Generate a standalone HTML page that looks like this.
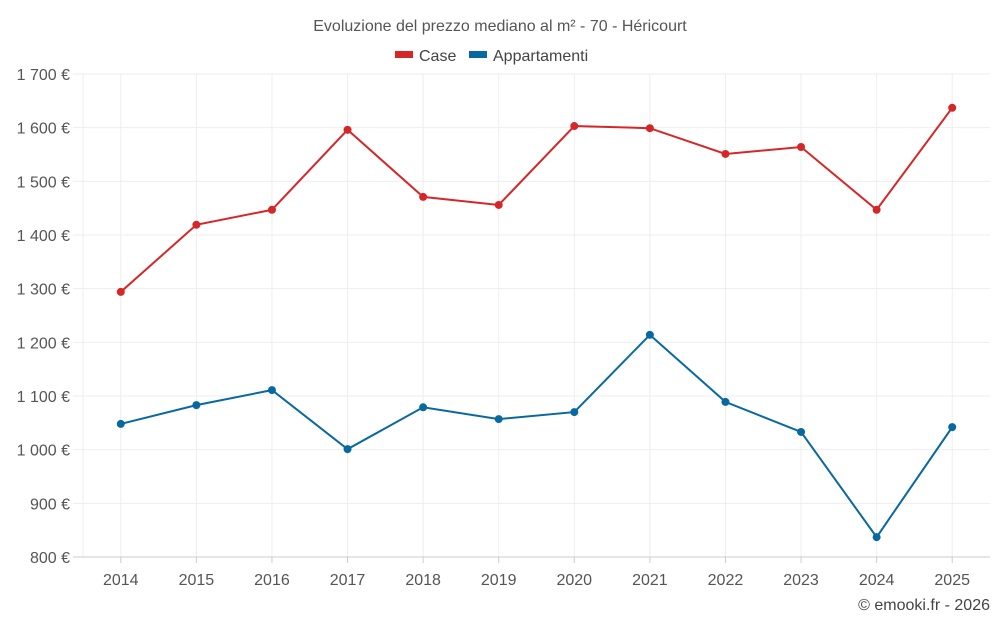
<!DOCTYPE html>
<html><head><meta charset="utf-8"><style>
body{margin:0;background:#fff;font-family:"Liberation Sans",sans-serif;}
svg text{font-family:"Liberation Sans",sans-serif;}
</style></head><body>
<svg id="c" width="1000" height="625">
<text x="500" y="31" text-anchor="middle" font-size="16" fill="#555">Evoluzione del prezzo mediano al m² - 70 - Héricourt</text>
<g>
<g><rect x="395" y="51" width="18" height="7" fill="#d62728"/><text x="419" y="61" font-size="16" fill="#444">Case</text></g>
<g><rect x="469" y="51" width="18" height="7" fill="#0868a0"/><text x="493" y="61" font-size="16" fill="#444">Appartamenti</text></g>
</g>
<text x="990" y="610" text-anchor="end" font-size="16" fill="#444">© emooki.fr - 2026</text>
</svg>
<script>
const years=["2014","2015","2016","2017","2018","2019","2020","2021","2022","2023","2024","2025"];
const caseValues=[1294,1419,1447,1596,1471,1456,1603,1599,1551,1564,1447,1637];
const appValues=[1048,1083,1111,1001,1079,1057,1070,1214,1089,1033,837,1042];
const yTicks=[800,900,1000,1100,1200,1300,1400,1500,1600,1700];
const tickLabels=["800 €","900 €","1 000 €","1 100 €","1 200 €","1 300 €","1 400 €","1 500 €","1 600 €","1 700 €"];
const svg=document.getElementById('c'),NS="http://www.w3.org/2000/svg";
const L=83,R=990,T=74,B=557,bw=(R-L)/years.length;
const x=i=>L+bw*(i+0.5), y=v=>B-(v-800)/900*(B-T);
function mk(t,a,p){const e=document.createElementNS(NS,t);for(const k in a)e.setAttribute(k,a[k]);(p||svg).appendChild(e);return e;}
const grid=mk('g',{});


mk('line',{x1:L,x2:L,y1:T,y2:B,stroke:'#eee'},grid);
years.forEach((yr,i)=>{mk('line',{x1:x(i),x2:x(i),y1:T,y2:B,stroke:'#eee'},grid);});
yTicks.forEach((v,i)=>{
 mk('line',{x1:L-10,x2:R,y1:y(v),y2:y(v),stroke:i==0?'#ccc':'#eee'},grid);
 const t=mk('text',{x:L-13,y:y(v)+6,'text-anchor':'end','font-size':16,fill:'#555'});
 t.textContent=tickLabels[i];
 
 
});
years.forEach((yr,i)=>{
 mk('line',{x1:x(i),x2:x(i),y1:B,y2:B+6,stroke:'#ccc'});
 const t=mk('text',{x:x(i),y:B+28,'text-anchor':'middle','font-size':16,fill:'#555'});
 t.textContent=yr;
 
 
});
function series(vals,col,name){
 const g=mk('g',{});
 
 
 mk('polyline',{points:vals.map((v,i)=>x(i)+','+y(v)).join(' '),fill:'none',stroke:col,'stroke-width':2},g);
 vals.forEach((v,i)=>{const c=mk('circle',{cx:x(i),cy:y(v),r:4,fill:col},g);
 
 });
}
series(caseValues,'#d62728','case-series');
series(appValues,'#0868a0','appartamenti-series');
</script>
</body></html>
